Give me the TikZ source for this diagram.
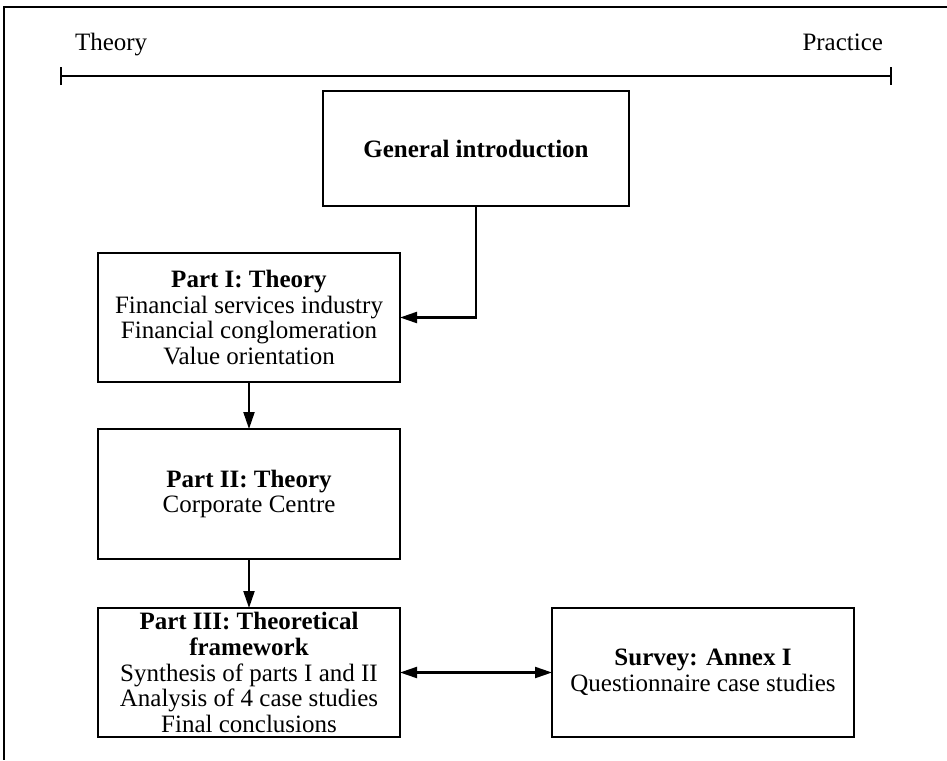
\documentclass[tikz,border=0pt]{standalone}
\usepackage{fontspec}
\setmainfont{Liberation Serif}
\usetikzlibrary{arrows.meta}

\begin{document}
\begin{tikzpicture}[x=1pt,y=-1pt,
  every node/.style={inner sep=0pt, outer sep=0pt},
  txt/.style={font=\fontsize{25}{25.8}\selectfont},
  part/.style={txt, draw, line width=2.4pt, align=center,
    minimum width=302pt, minimum height=129pt},
  tip/.style={Triangle[length=17pt,width=11pt]},
  link/.style={line width=2.1pt, -{Triangle[length=17pt,width=11pt]}},
  both/.style={line width=2.1pt, {Triangle[length=17pt,width=11pt]}-{Triangle[length=17pt,width=11pt]}},
  frame/.style={line width=2.2pt}
]
% page area and frame
\useasboundingbox (0,0) rectangle (947,760);
\coordinate (ftop) at (947,7);
\coordinate (fcorner) at (4,7);
\coordinate (fbottom) at (4,760);
\draw[frame] (ftop) -- (fcorner) -- (fbottom);

% theory--practice scale
\node[txt, anchor=base west] (theory) at (75,51) {Theory};
\node[txt, anchor=base east] (practice) at (883,51) {Practice};
\coordinate (scaleL) at (60,76);
\coordinate (scaleR) at (892,76);
\draw[line width=2.1pt, {Bar[width=18pt]}-{Bar[width=18pt]}] (scaleL) -- (scaleR);

% boxes
\node[part, minimum width=306pt, minimum height=115pt] (intro) at (476,148.5)
  {\textbf{General introduction}};
\node[part] (p1) at (249,317.5)
  {\textbf{Part I: Theory}\\Financial services industry\\Financial conglomeration\\Value orientation};
\node[part, minimum height=130pt] (p2) at (249,494)
  {\textbf{Part II: Theory}\\Corporate Centre};
\node[part] (p3) at (249,672.5)
  {\textbf{Part III: Theoretical}\\\textbf{framework}\\Synthesis of parts I and II\\Analysis of 4 case studies\\Final conclusions};
\node[part] (survey) at (703,672.5)
  {\textbf{Survey: Annex I}\\Questionnaire case studies};

% connectors
\draw[link] (intro.south) |- (p1.east);
\draw[link] (p1.south) -- (p2.north);
\draw[link] (p2.south) -- (p3.north);
\draw[both] (p3.east) -- (survey.west);
\end{tikzpicture}
\end{document}
